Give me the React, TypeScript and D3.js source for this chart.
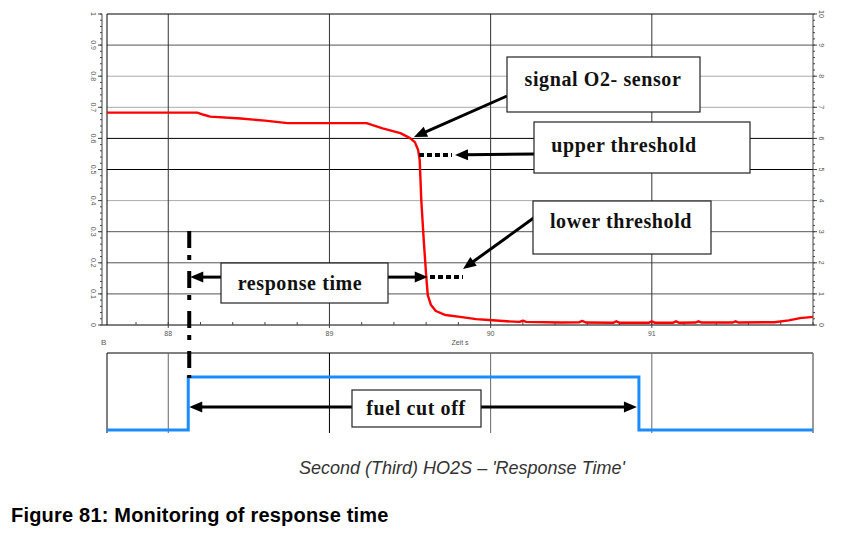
import React from 'react';
import * as d3 from 'd3';

const W = 842;
const H = 538;

// O2 sensor signal (left axis, 0..1) against time
const sensorTime = [
    87.62, 88.18, 88.22, 88.26, 88.45, 88.6, 88.74, 89.23, 89.33, 89.44, 89.5, 89.53, 89.55,
    89.56, 89.57, 89.585, 89.6, 89.61, 89.63, 89.66, 89.72, 89.81, 89.91, 89.99, 90.1, 90.18,
    90.2, 90.22, 90.43, 90.55, 90.57, 90.59, 90.76, 90.78, 90.8, 90.98, 91.0, 91.02, 91.13,
    91.15, 91.17, 91.27, 91.29, 91.31, 91.5, 91.52, 91.54, 91.76, 91.85, 91.92, 92.0,
];
const sensorValue = [
    0.683, 0.683, 0.676, 0.67, 0.664, 0.657, 0.649, 0.649, 0.632, 0.617, 0.601, 0.588, 0.563,
    0.53, 0.4, 0.273, 0.16, 0.096, 0.064, 0.045, 0.032, 0.026, 0.019, 0.016, 0.012, 0.01,
    0.014, 0.01, 0.008, 0.009, 0.013, 0.008, 0.007, 0.012, 0.007, 0.007, 0.012, 0.007, 0.007,
    0.012, 0.007, 0.008, 0.012, 0.008, 0.008, 0.012, 0.008, 0.009, 0.015, 0.022, 0.026,
];

// fuel cut off signal (lower panel, 0 = off, 1 = on)
const fuelTime = [87.62, 88.124, 88.124, 90.92, 90.92, 92.0];
const fuelValue = [0, 0, 1, 1, 0, 0];

const xTicks = [88, 89, 90, 91];
const leftTicks = [0, 0.1, 0.2, 0.3, 0.4, 0.5, 0.6, 0.7, 0.8, 0.9, 1];
const rightTicks = [0, 1, 2, 3, 4, 5, 6, 7, 8, 9, 10];

const upperThreshold = 0.547;
const lowerThreshold = 0.154;
const fuelCutStart = 88.124;
const fuelCutEnd = 90.92;
const responseEnd = 89.61;

const gridShade = ['#000', '#555', '#555', '#555', '#aaa', '#000', '#000', '#aaa', '#aaa', '#555', '#000'];

const serif = '"Liberation Serif", "Times New Roman", serif';
const sans = '"Liberation Sans", Arial, sans-serif';

const Arrow = ({x1, y1, x2, y2, w = 3, head = 13, half = 5.5}:
                   {x1: number; y1: number; x2: number; y2: number; w?: number; head?: number; half?: number}) => {
    const dx = x2 - x1;
    const dy = y2 - y1;
    const len = Math.hypot(dx, dy);
    const ux = dx / len;
    const uy = dy / len;
    const bx = x2 - ux * head;
    const by = y2 - uy * head;
    const pts = [
        [x2, y2],
        [bx - uy * half, by + ux * half],
        [bx + uy * half, by - ux * half],
    ].map(p => p.join(',')).join(' ');
    return (
        <g>
            <line x1={x1} y1={y1} x2={bx + ux * 2} y2={by + uy * 2} stroke="#000" strokeWidth={w}/>
            <polygon points={pts} fill="#000"/>
        </g>
    );
};

const Box = ({x, y, w, h, label, tx, ty}:
                 {x: number; y: number; w: number; h: number; label: string; tx: number; ty: number}) => (
    <g>
        <rect x={x} y={y} width={w} height={h} fill="#fff" stroke="#222" strokeWidth={1.2}/>
        <text x={tx} y={ty} textAnchor="middle" fontFamily={serif} fontWeight="bold" fontSize={20}
              letterSpacing={0.6} fill="#111">{label}</text>
    </g>
);

export default function App() {
    const x = d3.scaleLinear().domain([87.62, 92.0]).range([107, 813]);
    const y = d3.scaleLinear().domain([0, 1]).range([325, 14]);
    const yRight = d3.scaleLinear().domain([0, 10]).range([325, 14]);
    const yFuel = d3.scaleLinear().domain([0, 1]).range([430, 377]);

    const sensorLine = d3.line<number>()
        .x((_, i) => x(sensorTime[i]))
        .y(d => y(d))(sensorValue) || '';
    const fuelLine = d3.line<number>()
        .x((_, i) => x(fuelTime[i]))
        .y(d => yFuel(d))(fuelValue) || '';

    const leftMinor = d3.range(0, 1.0001, 0.02);
    const rightMinor = d3.range(0, 10.0001, 0.2);
    const xMinor = d3.range(87.8, 92, 0.2);

    const xs = x(fuelCutStart);
    const yUp = y(upperThreshold);
    const yLow = y(lowerThreshold);
    const xResp = x(responseEnd);
    const fuelArrowY = 407;

    return (
        <svg width={W} height={H} style={{position: 'absolute', left: 0, top: 0, background: '#fff'}}>
            {/* upper panel grid */}
            {leftTicks.slice(1, -1).map((t, i) => (
                <line key={'hg' + t} x1={107} x2={813} y1={y(t)} y2={y(t)} stroke={gridShade[i + 1]} strokeWidth={1}/>
            ))}
            {xTicks.map(t => (
                <line key={'vg' + t} x1={x(t)} x2={x(t)} y1={14} y2={325} stroke="#333" strokeWidth={1}/>
            ))}
            <line x1={107} x2={813} y1={14} y2={14} stroke="#000"/>
            <line x1={107} x2={107} y1={14} y2={325} stroke="#000"/>
            <line x1={102} x2={813} y1={325} y2={325} stroke="#000"/>

            {/* left axis */}
            <line x1={102} x2={102} y1={14} y2={325} stroke="#444"/>
            {leftMinor.map(t => (
                <line key={'lm' + t} x1={100} x2={102} y1={y(t)} y2={y(t)} stroke="#444"/>
            ))}
            {leftTicks.map(t => (
                <g key={'lt' + t}>
                    <line x1={98} x2={102} y1={y(t)} y2={y(t)} stroke="#444"/>
                    <text transform={`translate(93,${y(t)}) rotate(90)`} textAnchor="middle" dy="0.35em"
                          fontFamily={sans} fontSize={7} fill="#555">{d3.format('~g')(t)}</text>
                </g>
            ))}

            {/* right axis */}
            <line x1={813} x2={813} y1={14} y2={325} stroke="#444"/>
            {rightMinor.map(t => (
                <line key={'rm' + t} x1={813} x2={815} y1={yRight(t)} y2={yRight(t)} stroke="#444"/>
            ))}
            {rightTicks.map(t => (
                <g key={'rt' + t}>
                    <line x1={813} x2={817} y1={yRight(t)} y2={yRight(t)} stroke="#444"/>
                    <text transform={`translate(821,${yRight(t)}) rotate(90)`} textAnchor="middle" dy="0.35em"
                          fontFamily={sans} fontSize={7} fill="#555">{t}</text>
                </g>
            ))}

            {/* bottom axis */}
            {xMinor.map(t => (
                <line key={'xm' + t} x1={x(t)} x2={x(t)} y1={322} y2={325} stroke="#444"/>
            ))}
            {xTicks.map(t => (
                <g key={'xt' + t}>
                    <line x1={x(t)} x2={x(t)} y1={325} y2={328} stroke="#444"/>
                    <text x={x(t)} y={336} textAnchor="middle" fontFamily={sans} fontSize={7} fill="#555">{t}</text>
                </g>
            ))}
            <text x={101} y={345} fontFamily={sans} fontSize={8} fill="#555">B</text>
            <text x={460} y={345} textAnchor="middle" fontFamily={sans} fontSize={7} fill="#555">Zeit s</text>

            {/* sensor signal */}
            <path d={sensorLine} fill="none" stroke="#ff0000" strokeWidth={2.4} strokeLinejoin="round"/>

            {/* lower panel */}
            <line x1={107} x2={813} y1={353} y2={353} stroke="#000"/>
            <line x1={107} x2={107} y1={353} y2={433} stroke="#000"/>
            {xTicks.map((t, i) => (
                <line key={'lg' + t} x1={x(t)} x2={x(t)} y1={353} y2={433} stroke={i === 1 ? '#000' : '#666'}/>
            ))}
            <line x1={813} x2={813} y1={353} y2={433} stroke="#777" strokeWidth={1.5}/>
            <path d={fuelLine} fill="none" stroke="#1a8cff" strokeWidth={3}/>

            {/* dash-dot marker at fuel cut start */}
            <line x1={xs + 1} x2={xs + 1} y1={231} y2={378} stroke="#000" strokeWidth={4}
                  strokeDasharray="17,7,5,11"/>

            {/* threshold dots */}
            <line x1={419} x2={452} y1={yUp} y2={yUp} stroke="#000" strokeWidth={4} strokeDasharray="5,3"/>
            <line x1={430} x2={463} y1={yLow} y2={yLow} stroke="#000" strokeWidth={4} strokeDasharray="5,3"/>

            {/* annotations */}
            <Arrow x1={507} y1={96} x2={414} y2={137}/>
            <Box x={507} y={57} w={193} h={55} label="signal O2- sensor" tx={603} ty={86}/>

            <Arrow x1={535} y1={yUp - 1} x2={455} y2={yUp}/>
            <Box x={534} y={122} w={216} h={51} label="upper threshold" tx={624} ty={152}/>

            <Arrow x1={535} y1={217} x2={463} y2={269}/>
            <Box x={533} y={201} w={178} h={53} label="lower threshold" tx={621} ty={228}/>

            <Arrow x1={222} y1={yLow} x2={xs + 2} y2={yLow}/>
            <Arrow x1={387} y1={yLow} x2={xResp} y2={yLow}/>
            <Box x={221} y={263} w={167} h={40} label="response time" tx={300} ty={290}/>

            <Arrow x1={353} y1={fuelArrowY} x2={xs + 1} y2={fuelArrowY}/>
            <Arrow x1={480} y1={fuelArrowY} x2={x(fuelCutEnd) - 2} y2={fuelArrowY}/>
            <Box x={352} y={390} w={129} h={37} label="fuel cut off" tx={416} ty={415}/>

            {/* captions */}
            <text x={462} y={474} textAnchor="middle" fontFamily={sans} fontStyle="italic" fontSize={18}
                  fill="#333">Second (Third) HO2S – 'Response Time'</text>
            <text x={11} y={522} fontFamily={sans} fontWeight="bold" fontSize={20} letterSpacing={0.2} fill="#000">
                Figure 81: Monitoring of response time
            </text>
        </svg>
    );
}
